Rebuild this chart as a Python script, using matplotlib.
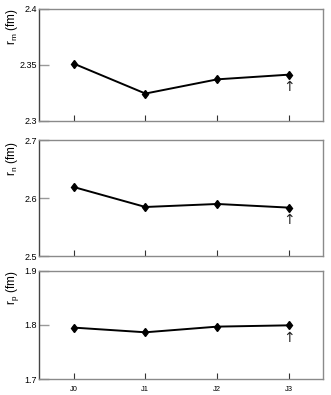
import matplotlib
matplotlib.use("Agg")
import matplotlib.pyplot as plt

plt.rcParams['font.family'] = ['Liberation Sans', 'DejaVu Sans']
plt.rcParams['mathtext.default'] = 'regular'

labels = ["J0", "J1", "J2", "J3"]
r_m = [2.3513, 2.3245, 2.3372, 2.3414]
r_n = [2.619, 2.5845, 2.5897, 2.5834]
r_p = [1.7952, 1.7865, 1.797, 1.7994]

panels = [
    (r_m, r"r$_m$ (fm)", (2.3, 2.4), [2.3, 2.35, 2.4], ["2.3", "2.35", "2.4"]),
    (r_n, r"r$_n$ (fm)", (2.5, 2.7), [2.5, 2.6, 2.7], ["2.5", "2.6", "2.7"]),
    (r_p, r"r$_p$ (fm)", (1.7, 1.9), [1.7, 1.8, 1.9], ["1.7", "1.8", "1.9"]),
]

fig = plt.figure(figsize=(3.31, 3.95), dpi=100)
W, H = 331.0, 395.0
boxes = [(9, 121), (140, 256), (271, 379)]
x = list(range(len(labels)))

for (vals, ylab, ylim, yt, ytl), (top, bot) in zip(panels, boxes):
    ax = fig.add_axes([39 / W, 1 - bot / H, (323 - 39) / W, (bot - top) / H])
    ax.plot(x, vals, color="black", lw=1.4, marker="d", ms=4.5, mfc="black", mec="black")
    # small arrow under the last point
    ax.annotate("\u2191", (x[-1], vals[-1]), xytext=(0, -9), textcoords="offset points",
                ha="center", va="center", fontsize=10, color="#222222", family="DejaVu Sans")
    ax.set_xlim(-0.48, 3.47)
    ax.set_ylim(*ylim)
    ax.set_yticks(yt)
    ax.set_yticklabels(ytl)
    ax.set_xticks(x)
    for s in ax.spines.values():
        s.set_color("#8a8a8a")
        s.set_linewidth(1.0)
    ax.spines['left'].set_color("#444444")
    ax.tick_params(axis='y', direction='in', length=7, width=1, color="#999999",
                   labelsize=6.5, pad=1.5)
    ax.tick_params(axis='x', direction='in', length=4, width=0.8, color="#333333",
                   labelsize=5.5, pad=5)
    ax.set_ylabel(ylab, fontsize=8.5, va="center")
    ax.yaxis.set_label_coords(-0.095, 0.84)
    if top != 271:
        ax.set_xticklabels([])
    else:
        ax.set_xticklabels(labels)

fig.savefig("out.png", dpi=100)
